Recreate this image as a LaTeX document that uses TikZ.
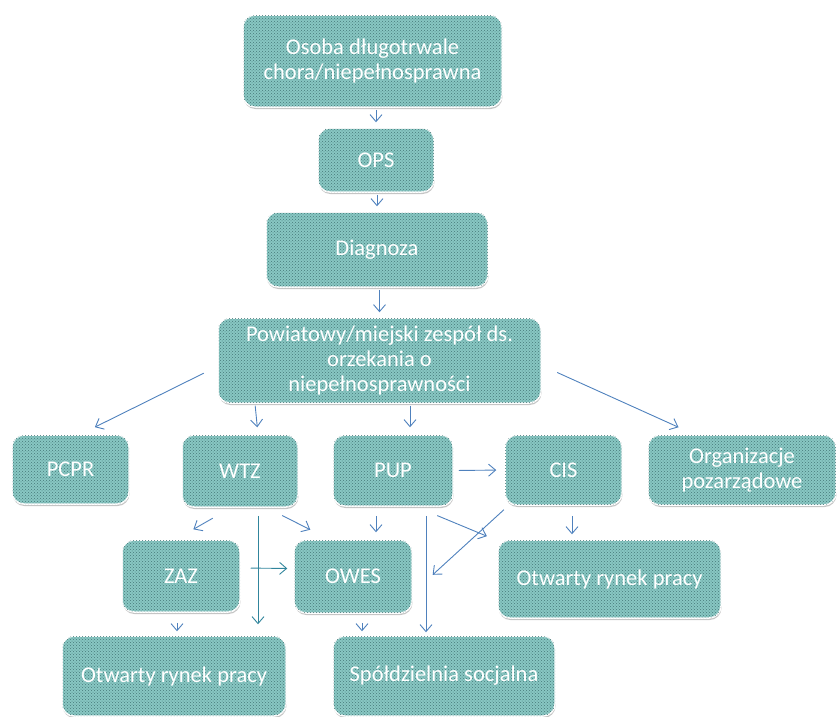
\documentclass[tikz,border=0pt]{standalone}
\usepackage{fontspec}
\setmainfont{Carlito}
\usetikzlibrary{calc,arrows.meta,patterns,shadows}
\definecolor{boxteal}{RGB}{136,199,195}
\definecolor{dotteal}{RGB}{70,120,120}
\definecolor{arrblue}{RGB}{79,129,189}
\definecolor{arrteal}{RGB}{49,133,156}

\begin{document}
\begin{tikzpicture}[x=1pt, y=-1pt,
    box/.style={draw=white, line width=1.5pt, rounded corners=12pt, fill=boxteal,
      postaction={pattern=crosshatch dots, pattern color=dotteal},
      drop shadow={shadow xshift=0.5pt, shadow yshift=-2pt, fill=black!45},
      text=white, font=\fontsize{22.5}{25}\selectfont, align=center, inner sep=0pt},
    sz/.style 2 args={minimum width=#1pt, minimum height=#2pt},
    arr/.style={draw=arrblue, line width=0.9pt, -{Straight Barb[length=7pt,width=12pt]}},
    tarr/.style={arr, draw=arrteal}]
  \useasboundingbox (0,0) rectangle (839,716);

  \node[box, sz={259}{92}] (osoba) at (372.5,61) {Osoba długotrwale\\chora/niepełnosprawna};
  \node[box, sz={116}{64}] (ops) at (376,160) {OPS};
  \node[box, sz={222}{75}] (diag) at (377,249.5) {Diagnoza};
  \node[box, sz={323}{85}] (pow) at (379.5,360.5) {Powiatowy/miejski zespół ds.\\orzekania o\\niepełnosprawności};

  \node[box, sz={117}{69}] (pcpr) at (70.5,469.5) {PCPR};
  \node[box, sz={116}{72}] (wtz) at (240,471) {WTZ};
  \node[box, sz={120}{71}] (pup) at (393,470.5) {PUP};
  \node[box, sz={117}{70}] (cis) at (563.5,470) {CIS};
  \node[box, sz={188}{70}] (ngo) at (742,470) {Organizacje\\pozarządowe};

  \node[box, sz={118}{72}] (zaz) at (181,576) {ZAZ};
  \node[box, sz={118}{73}] (owes) at (353,576.5) {OWES};
  \node[box, sz={223}{78}] (rynekR) at (609.5,579) {Otwarty rynek pracy};

  \node[box, sz={224}{80}] (rynekL) at (174,676) {Otwarty rynek pracy};
  \node[box, sz={222}{80}] (spol) at (444,676) {Spółdzielnia socjalna};

  \foreach \a/\b in {osoba/ops, ops/diag, diag/pow}{
    \draw[arr, shorten <=2pt, shorten >=5pt] (\b.north |- \a.south) -- (\b.north);
  }

  \draw[arr, shorten <=15pt, shorten >=16pt] ([yshift=-6pt]pow.west) -- ([xshift=10pt]pcpr.north);
  \draw[arr, shorten <=2pt, shorten >=7pt] ([xshift=-124.5pt]pow.south) -- ([xshift=18pt]wtz.north);
  \draw[arr, shorten <=2pt, shorten >=7pt] ([xshift=30.5pt]pow.south) -- ([xshift=17pt]pup.north);
  \draw[arr, shorten <=17pt, shorten >=17pt] ([yshift=-5pt]pow.east) -- ([xshift=-48pt]ngo.north);

  \draw[arr, shorten <=5pt, shorten >=8pt] (pup.east) -- (cis.west);

  \draw[arr, shorten <=21pt, shorten >=20pt] ([xshift=-9pt]wtz.south) -- ([xshift=-5pt]zaz.north);
  \draw[tarr, shorten <=8pt, shorten >=11pt] ([xshift=18pt]wtz.south) -- ([xshift=84pt]rynekL.north);
  \draw[arr, shorten <=17pt, shorten >=21pt] ([xshift=27pt]wtz.south) -- ([xshift=-24pt]owes.north);
  \draw[tarr, shorten <=10pt, shorten >=6pt] ([yshift=8pt]zaz.east) -- ([yshift=8pt]owes.west);

  \draw[arr, shorten <=9pt, shorten >=7pt] ([xshift=-17pt]pup.south) -- ([xshift=23pt]owes.north);
  \draw[arr, shorten <=9pt, shorten >=3pt] ([xshift=33pt]pup.south) -- ([xshift=-18pt]spol.north);
  \draw[arr, shorten <=23pt, shorten >=8pt] ([xshift=23pt]pup.south) -- ([xshift=-3pt]rynekR.north west);

  \draw[arr, shorten <=6pt, shorten >=27pt] ([xshift=4pt]cis.south west) -- ([yshift=-16.5pt]owes.east);
  \draw[arr, shorten <=10pt, shorten >=5pt] ([xshift=8.5pt]cis.south) -- ([xshift=-37.5pt]rynekR.north);

  \draw[arr, shorten <=10pt, shorten >=4pt] ([xshift=-4pt]zaz.south) -- ([xshift=3pt]rynekL.north);
  \draw[arr, shorten <=9pt, shorten >=4pt] ([xshift=9pt]owes.south) -- ([xshift=-82pt]spol.north);
\end{tikzpicture}
\end{document}
